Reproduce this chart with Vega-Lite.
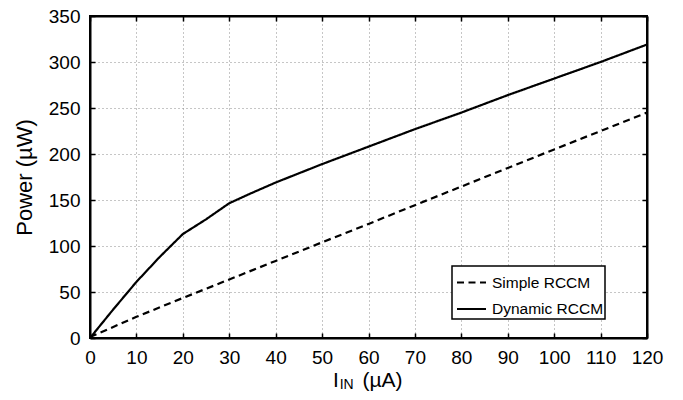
{
  "$schema": "https://vega.github.io/schema/vega-lite/v6.json",
  "width": 557,
  "height": 322,
  "autosize": "none",
  "padding": {"left": 90, "top": 16, "right": 36, "bottom": 62},
  "background": "white",
  "config": {
    "font": "Liberation Sans",
    "view": {"stroke": "black", "strokeWidth": 2},
    "axis": {
      "domainColor": "black",
      "domainWidth": 2,
      "tickColor": "black",
      "tickWidth": 1.5,
      "tickSize": -5,
      "labelPadding": 15,
      "labelFontSize": 19,
      "labelColor": "black",
      "labelFont": "Liberation Sans",
      "labelOverlap": false,
      "labelFlush": false,
      "titleFont": "Liberation Sans",
      "titleFontWeight": "normal",
      "titleColor": "black",
      "gridColor": "#8c8c8c",
      "gridDash": [1, 3],
      "gridWidth": 1
    }
  },
  "data": {
    "values": [
      {"series": "Simple RCCM", "x": 0, "y": 1},
      {"series": "Simple RCCM", "x": 10, "y": 23},
      {"series": "Simple RCCM", "x": 20, "y": 43.5},
      {"series": "Simple RCCM", "x": 30, "y": 63.6},
      {"series": "Simple RCCM", "x": 40, "y": 83.8},
      {"series": "Simple RCCM", "x": 50, "y": 104},
      {"series": "Simple RCCM", "x": 60, "y": 124},
      {"series": "Simple RCCM", "x": 70, "y": 144.4},
      {"series": "Simple RCCM", "x": 80, "y": 164.6},
      {"series": "Simple RCCM", "x": 90, "y": 184.8},
      {"series": "Simple RCCM", "x": 100, "y": 205},
      {"series": "Simple RCCM", "x": 110, "y": 225},
      {"series": "Simple RCCM", "x": 120, "y": 245},
      {"series": "Dynamic RCCM", "x": 0, "y": 0},
      {"series": "Dynamic RCCM", "x": 5, "y": 31},
      {"series": "Dynamic RCCM", "x": 10, "y": 61},
      {"series": "Dynamic RCCM", "x": 15, "y": 88},
      {"series": "Dynamic RCCM", "x": 20, "y": 113},
      {"series": "Dynamic RCCM", "x": 25, "y": 129},
      {"series": "Dynamic RCCM", "x": 30, "y": 146.5},
      {"series": "Dynamic RCCM", "x": 35, "y": 158},
      {"series": "Dynamic RCCM", "x": 40, "y": 169},
      {"series": "Dynamic RCCM", "x": 50, "y": 189},
      {"series": "Dynamic RCCM", "x": 60, "y": 208},
      {"series": "Dynamic RCCM", "x": 70, "y": 227},
      {"series": "Dynamic RCCM", "x": 80, "y": 245},
      {"series": "Dynamic RCCM", "x": 90, "y": 264},
      {"series": "Dynamic RCCM", "x": 100, "y": 282},
      {"series": "Dynamic RCCM", "x": 110, "y": 300},
      {"series": "Dynamic RCCM", "x": 120, "y": 319}
    ]
  },
  "layer": [
    {
      "mark": {"type": "line", "color": "black", "strokeWidth": 2.2},
      "encoding": {
        "x": {
          "field": "x", "type": "quantitative",
          "scale": {"domain": [0, 120], "nice": false},
          "axis": {"title": null, "values": [0,10,20,30,40,50,60,70,80,90,100,110,120], "grid": true}
        },
        "y": {
          "field": "y", "type": "quantitative",
          "scale": {"domain": [0, 350], "nice": false},
          "axis": {"title": "Power (µW)", "titleFontSize": 22, "titlePadding": 12, "values": [0,50,100,150,200,250,300,350], "grid": true}
        },
        "strokeDash": {
          "field": "series", "type": "nominal",
          "scale": {"domain": ["Simple RCCM", "Dynamic RCCM"], "range": [[7, 4.5], [1, 0]]},
          "legend": {
            "title": null,
            "orient": "none",
            "legendX": 362,
            "legendY": 250,
            "direction": "vertical",
            "columns": 1,
            "symbolType": "stroke",
            "symbolSize": 841,
            "symbolStrokeWidth": 2,
            "symbolStrokeColor": "black",
            "symbolOffset": 3,
            "labelFontSize": 15.5,
            "labelFont": "Liberation Sans",
            "labelColor": "black",
            "labelOffset": 5,
            "fillColor": "white",
            "strokeColor": "black",
            "padding": 1,
            "rowPadding": 2.5,
            "encode": {"legend": {"update": {"strokeWidth": {"value": 1.5}}}}
          }
        }
      }
    },
    {
      "mark": {"type": "line", "opacity": 0},
      "encoding": {
        "x": {
          "field": "x", "type": "quantitative",
          "scale": {"domain": [0, 120], "nice": false},
          "axis": {"orient": "top", "title": null, "labels": false, "grid": false, "values": [0,10,20,30,40,50,60,70,80,90,100,110,120]}
        },
        "y": {
          "field": "y", "type": "quantitative",
          "scale": {"domain": [0, 350], "nice": false},
          "axis": {"orient": "right", "title": null, "labels": false, "grid": false, "values": [0,50,100,150,200,250,300,350]}
        },
        "detail": {"field": "series"}
      }
    },
    {
      "data": {"values": [{"t": "I"}]},
      "mark": {"type": "text", "align": "left", "baseline": "alphabetic", "fontSize": 21, "dx": -35.5, "dy": 48.7, "color": "black"},
      "encoding": {
        "x": {"datum": 60, "type": "quantitative", "axis": null},
        "y": {"datum": 0, "type": "quantitative", "axis": null},
        "text": {"field": "t"}
      }
    },
    {
      "data": {"values": [{"t": "IN"}]},
      "mark": {"type": "text", "align": "left", "baseline": "alphabetic", "fontSize": 14, "dx": -28.8, "dy": 51, "color": "black"},
      "encoding": {
        "x": {"datum": 60, "type": "quantitative", "axis": null},
        "y": {"datum": 0, "type": "quantitative", "axis": null},
        "text": {"field": "t"}
      }
    },
    {
      "data": {"values": [{"t": "(µA)"}]},
      "mark": {"type": "text", "align": "left", "baseline": "alphabetic", "fontSize": 21, "dx": -6, "dy": 49, "color": "black"},
      "encoding": {
        "x": {"datum": 60, "type": "quantitative", "axis": null},
        "y": {"datum": 0, "type": "quantitative", "axis": null},
        "text": {"field": "t"}
      }
    }
  ],
  "resolve": {"axis": {"x": "independent", "y": "independent"}}
}
